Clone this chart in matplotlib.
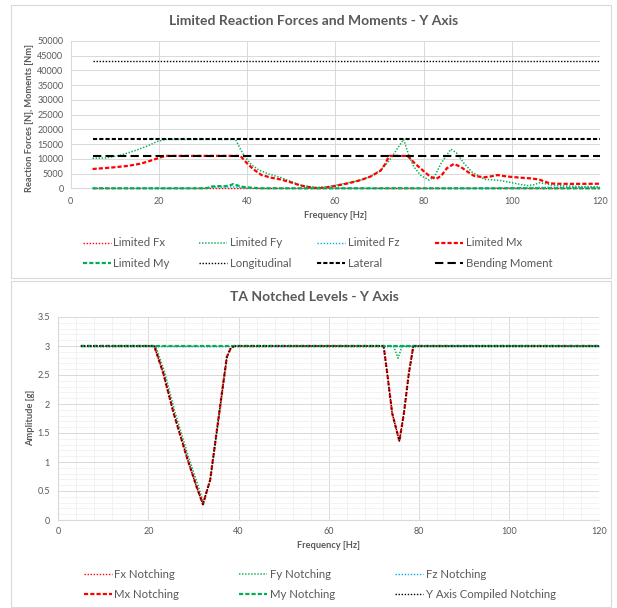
import matplotlib
matplotlib.use("Agg")
import matplotlib.pyplot as plt
from matplotlib.patches import Rectangle
from matplotlib.ticker import MultipleLocator

plt.rcParams['font.family'] = ['Lato', 'DejaVu Sans']
plt.rcParams['lines.scale_dashes'] = False

# ---------------- Limited reaction forces and moments (Y axis) ----------------
freq_fy = [5, 8, 11, 13, 15, 17.5, 19.6, 21.5, 37.4, 39, 40, 41, 42.7, 45, 47.6, 50, 52, 54, 56,
           58, 60, 63, 65.8, 68, 70.3, 72, 73, 74.3, 75.5, 76.6, 77.8, 79.5, 81.3, 82.5, 84, 86.2,
           87.5, 89, 91, 93.8, 95.5, 97.6, 100, 102, 103.7, 105, 106.3, 107.5, 109, 112, 116, 120]
fy = [10200, 10300, 11100, 12000, 13000, 14400, 15850, 16600, 16600, 11900, 9800, 8000, 6200, 4800,
      3700, 2300, 1100, 600, 300, 500, 1000, 1900, 2800, 4000, 6200, 9000, 11000, 14000, 16600,
      11500, 7300, 4200, 2800, 4000, 8500, 13260, 12000, 8800, 5500, 3060, 2900, 2600, 1900, 1300,
      900, 1200, 1900, 1600, 1100, 800, 600, 500]

freq_mx = [5, 9, 13, 16, 18, 20, 21.5, 38.5, 40, 41.5, 43.3, 45.5, 47.6, 50, 52, 54, 56, 58, 60,
           63, 65.8, 68, 70.3, 71.3, 72.2, 76.4, 78, 80.2, 81.5, 82.8, 84, 85.3, 86.9, 88.5, 90,
           91.5, 93.8, 95.5, 96.8, 99, 102, 104, 106, 107.5, 108.5, 110, 114, 120]
mx = [6560, 7000, 7600, 8400, 9300, 10300, 11000, 11000, 8500, 6400, 4500, 3600, 3000, 2000, 1000,
      400, 0, 300, 800, 1700, 2800, 4000, 6000, 8200, 11000, 11000, 8500, 5600, 4000, 3160, 4200,
      6800, 8300, 7200, 5600, 4180, 3740, 4100, 4500, 4000, 3600, 3400, 3060, 2300, 1700, 1550,
      1500, 1550]

freq_my = [5, 30, 31, 32, 33.5, 35, 36, 36.9, 38, 39, 41, 43, 120]
my = [0, 0, 100, 600, 750, 700, 900, 1460, 900, 500, 200, 0, 0]

freq_fx = [5, 120]
fx = [0, 0]

freq_fz = [5, 31, 32, 34, 36, 38, 40, 72, 74, 76, 78, 95, 100, 106, 110, 120]
fz = [0, 0, 400, 450, 500, 400, 0, 0, 200, 200, 0, 0, 150, 300, 350, 300]

freq_lim = [5, 120]
longitudinal = [43200, 43200]
lateral = [16600, 16600]
bending = [11000, 11000]

# ---------------- TA notched levels (Y axis) ----------------
freq_comp = [5, 21.3, 23.3, 25.6, 28.5, 30.7, 32.1, 33.7, 35.2, 36.7, 37.4, 38.2, 39,
             72.2, 73, 74.1, 75.7, 76.7, 77.8, 78.8, 120]
compiled = [3, 3, 2.53, 1.84, 1.09, 0.57, 0.27, 0.69, 1.55, 2.41, 2.81, 2.95, 3,
            3, 2.53, 1.84, 1.36, 1.84, 2.53, 3, 3]
mx_notch = compiled

freq_fyn = [5, 21.6, 23.6, 25.9, 28.8, 31.0, 32.2, 33.8, 35.3, 36.8, 37.5, 38.3, 39,
            74.4, 75.4, 76.3, 120]
fy_notch = [3, 3, 2.55, 1.86, 1.11, 0.6, 0.3, 0.72, 1.58, 2.44, 2.83, 2.96, 3,
            3, 2.79, 3, 3]

freq_flat = [5, 120]
fx_notch = [3, 3]
fz_notch = [3, 3]
my_notch = [3, 3]

RED = '#FF0000'
GREEN = '#00B050'
BLUE = '#00B0F0'
TXT = '#595959'
GRID = '#D9D9D9'

W, H = 617, 608
fig = plt.figure(figsize=(W / 100, H / 100), dpi=100)

# chart area borders
for (x0, y0, x1, y1) in [(11, 5, 611, 278), (11, 281, 611, 607)]:
    fig.add_artist(Rectangle((x0 / W, 1 - y1 / H), (x1 - x0) / W, (y1 - y0) / H,
                             transform=fig.transFigure, fill=False, ec=GRID, lw=0.8))


def px_axes(l, t, r, b):
    return fig.add_axes([l / W, 1 - b / H, (r - l) / W, (b - t) / H])


def style(ax):
    for s in ['top', 'right', 'left']:
        ax.spines[s].set_visible(False)
    ax.spines['bottom'].set_color(GRID)
    ax.tick_params(length=0, labelsize=6.5, labelcolor=TXT)
    ax.set_axisbelow(True)


dot = (0, (1.0, 1.2))
dash_s = (0, (3.0, 1.5))
dash_l = (0, (6.0, 3.0))
LK = dict(zorder=3, clip_on=False)

# ---- top chart ----
ax1 = px_axes(70.5, 41, 600, 188.3)
style(ax1)
ax1.set_xlim(0, 120)
ax1.set_ylim(0, 50000)
ax1.xaxis.set_major_locator(MultipleLocator(20))
ax1.yaxis.set_major_locator(MultipleLocator(5000))
ax1.grid(True, color=GRID, lw=0.7)
ax1.tick_params(axis='x', pad=6)
ax1.tick_params(axis='y', pad=5)

l_fx, = ax1.plot(freq_fx, fx, color=RED, lw=1.0, ls=dot, label='Limited Fx', **LK)
l_fy, = ax1.plot(freq_fy, fy, color=GREEN, lw=1.1, ls=dot, label='Limited Fy', **LK)
l_fz, = ax1.plot(freq_fz, fz, color=BLUE, lw=1.0, ls=dot, label='Limited Fz', **LK)
l_mx, = ax1.plot(freq_mx, mx, color=RED, lw=1.6, ls=dash_s, label='Limited Mx', **LK)
l_my, = ax1.plot(freq_my, my, color=GREEN, lw=1.6, ls=dash_s, label='Limited My', **LK)
l_lo, = ax1.plot(freq_lim, longitudinal, color='black', lw=1.0, ls=dot, label='Longitudinal', **LK)
l_la, = ax1.plot(freq_lim, lateral, color='black', lw=1.5, ls=dash_s, label='Lateral', **LK)
l_bm, = ax1.plot(freq_lim, bending, color='black', lw=1.5, ls=dash_l, label='Bending Moment', **LK)

fig.text(314 / W, 1 - 20.7 / H, 'Limited Reaction Forces and Moments - Y Axis',
         ha='center', va='center', fontsize=10, fontweight='bold', color=TXT)
fig.text(335 / W, 1 - 215 / H, 'Frequency [Hz]', ha='center', va='center',
         fontsize=6.7, fontweight='bold', color=TXT)
fig.text(29.5 / W, 1 - 118 / H, 'Reaction Forces [N], Moments [Nm]', ha='center', va='center',
         rotation=90, fontsize=6.7, fontweight='bold', color=TXT)

# ---- bottom chart ----
ax2 = px_axes(58.3, 317, 599, 520)
style(ax2)
ax2.spines['left'].set_visible(True)
ax2.spines['left'].set_color(GRID)
ax2.set_xlim(0, 120)
ax2.set_ylim(0, 3.5)
ax2.xaxis.set_major_locator(MultipleLocator(20))
ax2.xaxis.set_minor_locator(MultipleLocator(4))
ax2.yaxis.set_major_locator(MultipleLocator(0.5))
ax2.yaxis.set_minor_locator(MultipleLocator(0.1))
ax2.grid(True, which='major', color=GRID, lw=0.7)
ax2.grid(True, which='minor', color='#F0F0F0', lw=0.6)
ax2.tick_params(which='minor', length=0)
ax2.tick_params(axis='x', pad=5)
ax2.tick_params(axis='y', pad=6)
ax2.yaxis.set_major_formatter(lambda v, p: f'{v:g}')

n_fx, = ax2.plot(freq_flat, fx_notch, color=RED, lw=1.0, ls=dot, label='Fx Notching', **LK)
n_fy, = ax2.plot(freq_fyn, fy_notch, color=GREEN, lw=1.1, ls=dot, label='Fy Notching', **LK)
n_fz, = ax2.plot(freq_flat, fz_notch, color=BLUE, lw=1.0, ls=dot, label='Fz Notching', **LK)
n_mx, = ax2.plot(freq_comp, mx_notch, color=RED, lw=1.6, ls=dash_s, label='Mx Notching', **LK)
n_my, = ax2.plot(freq_flat, my_notch, color=GREEN, lw=1.6, ls=dash_s, label='My Notching', **LK)
n_cp, = ax2.plot(freq_comp, compiled, color='black', lw=1.0, ls=dot,
                 label='Y Axis Compiled Notching', **LK)

fig.text(314 / W, 1 - 297.3 / H, 'TA Notched Levels - Y Axis', ha='center', va='center',
         fontsize=10, fontweight='bold', color=TXT)
fig.text(328.6 / W, 1 - 546 / H, 'Frequency [Hz]', ha='center', va='center',
         fontsize=6.7, fontweight='bold', color=TXT)
fig.text(30.7 / W, 1 - 418 / H, 'Amplitude [g]', ha='center', va='center',
         rotation=90, fontsize=6.7, fontweight='bold', color=TXT)


def column_legend(handles, x_px, y_px):
    leg = fig.legend(handles=handles, loc='upper left',
                     bbox_to_anchor=(x_px / W, 1 - y_px / H), bbox_transform=fig.transFigure,
                     frameon=False, fontsize=8.2, handlelength=2.5, handletextpad=0.2,
                     labelspacing=0.8, borderpad=0, borderaxespad=0, labelcolor=TXT)
    return leg


top_cols = [[l_fx, l_my], [l_fy, l_lo], [l_fz, l_la], [l_mx, l_bm]]
for hs, x in zip(top_cols, [82.7, 199, 317, 435]):
    column_legend(hs, x, 237.5)

bot_cols = [[n_fx, n_mx], [n_fy, n_my], [n_fz, n_cp]]
for hs, x in zip(bot_cols, [83.5, 239, 395]):
    column_legend(hs, x, 568.5)

fig.savefig('out.png', dpi=100, facecolor='white')
